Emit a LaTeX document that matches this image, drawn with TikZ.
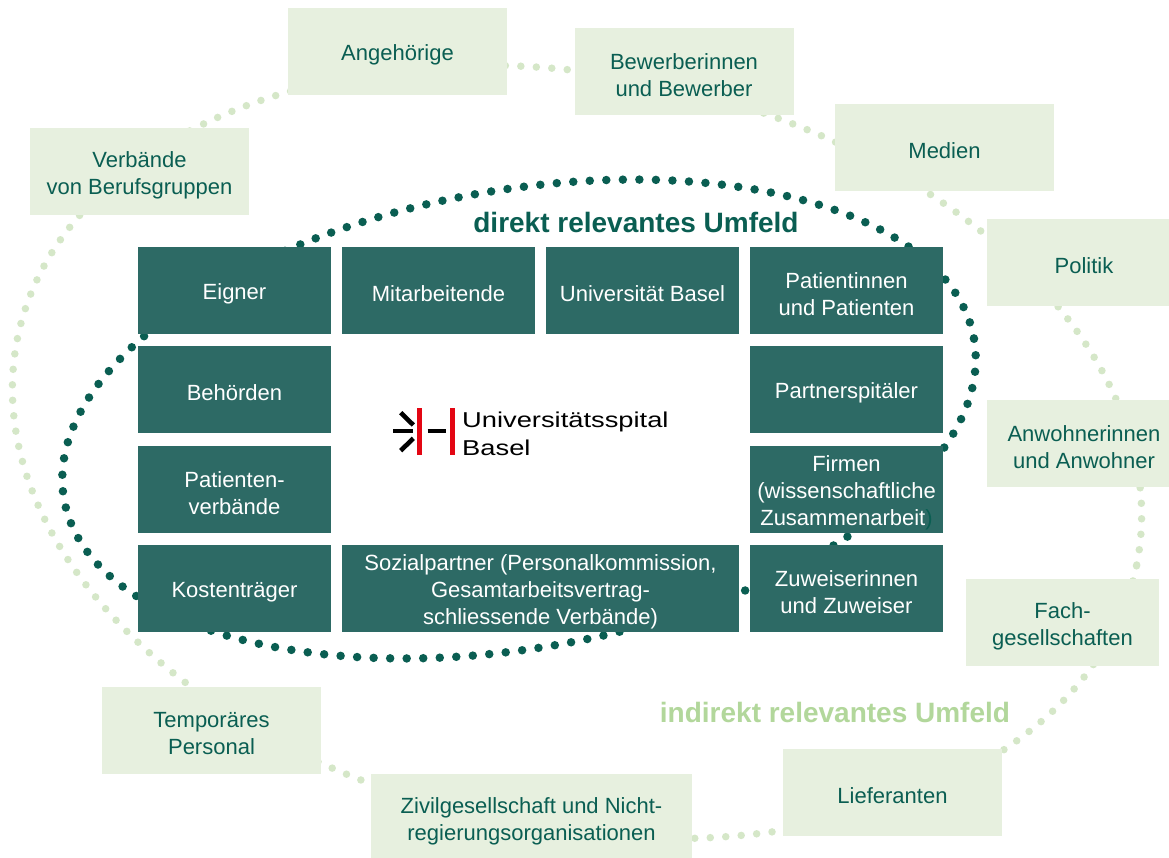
\documentclass[tikz,border=0pt]{standalone}
\usepackage{fontspec}
\setmainfont{Liberation Sans}
\definecolor{boxdark}{HTML}{2D6A65}
\definecolor{greendark}{HTML}{0A5E52}
\definecolor{boxlight}{HTML}{E7F0DF}
\definecolor{dotlight}{HTML}{D5E7C8}
\definecolor{titlelight}{HTML}{B2D79B}
\definecolor{logored}{HTML}{E30613}
\begin{document}
\begin{tikzpicture}[x=1pt,y=-1pt,
  boxtext/.style={align=center, inner sep=0pt, yshift=-3.5pt, font=\fontsize{22}{27}\selectfont},
  darktext/.style={boxtext, text=white},
  lighttext/.style={boxtext, text=greendark},
  darkbox/.style={fill=boxdark, minimum width=193pt, minimum height=87pt, inner sep=0pt},
  lightbox/.style={fill=boxlight, minimum width=219pt, minimum height=87pt, inner sep=0pt},
  dotsdark/.style={greendark, line width=8.5pt, line cap=round, dash pattern=on 0pt off 16.54pt},
  dotslight/.style={dotlight, line width=7.5pt, line cap=round, dash pattern=on 0pt off 15.51pt},
  titlefont/.style={font=\fontsize{28}{32}\selectfont\bfseries, inner sep=0pt, anchor=base},
  logoink/.style={line width=4.6pt}
  ]
\useasboundingbox (0,0) rectangle (1169,857);
\fill[white] (0,0) rectangle (1169,857);

% outer (indirect) ring
\draw[dotslight, rotate around={-11.5:(577,452)}] (577,452) ellipse [x radius=571, y radius=377];

\node[lightbox, label={[lighttext]center:Angehörige}] (angeh) at (397.5,51.5) {};
\node[lightbox, label={[lighttext]center:Bewerberinnen\\und Bewerber}] (bewerb) at (684,71.5) {};
\node[lightbox, label={[lighttext]center:Medien}] (medien) at (944.5,147.5) {};
\node[lightbox, minimum width=194pt, label={[lighttext]center:Politik}] (politik) at (1084,262.5) {};
\node[lightbox, minimum width=194pt, label={[lighttext]center:Anwohnerinnen\\und Anwohner}] (anwohn) at (1084,443.5) {};
\node[lightbox, minimum width=193pt, label={[lighttext]center:Fach-\\gesellschaften}] (fach) at (1062.5,622.5) {};
\node[lightbox, label={[lighttext]center:Lieferanten}] (liefer) at (892.5,792.5) {};
\node[lightbox, minimum width=321pt, label={[lighttext]center:Zivilgesellschaft und Nicht-\\regierungsorganisationen}] (zivil) at (531.5,817.5) {};
\node[lightbox, label={[lighttext]center:Temporäres\\Personal}] (tempo) at (211.5,730.5) {};
\node[lightbox, label={[lighttext]center:Verbände\\von Berufsgruppen}] (verb) at (139.5,171.5) {};

% inner (direct) ring
\draw[dotsdark, rotate around={10:(519,419)}] (519,419) ellipse [x radius=462, y radius=229];

\node[darkbox, label={[darktext]center:Eigner}] (eigner) at (234.5,290.5) {};
\node[darkbox, label={[darktext]center:Mitarbeitende}] (mitarb) at (438.5,290.5) {};
\node[darkbox, label={[darktext]center:Universität Basel}] (unibas) at (642.5,290.5) {};
\node[darkbox, label={[darktext]center:Patientinnen\\und Patienten}] (patient) at (846.5,290.5) {};
\node[darkbox, label={[darktext]center:Behörden}] (behoerd) at (234.5,389.5) {};
\node[darkbox, label={[darktext]center:Partnerspitäler}] (partner) at (846.5,389.5) {};
\node[darkbox, label={[darktext]center:Patienten-\\verbände}] (pverb) at (234.5,489.5) {};
\node[darkbox, label={[darktext]center:Firmen\\(wissenschaftliche\\Zusammenarbeit\textcolor{greendark}{)}}] (firmen) at (846.5,489.5) {};
\node[darkbox, label={[darktext]center:Kostenträger}] (kosten) at (234.5,588.5) {};
\node[darkbox, minimum width=397pt, label={[darktext]center:Sozialpartner (Personalkommission,\\Gesamtarbeitsvertrag-\\schliessende Verbände)}] (sozial) at (540.5,588.5) {};
\node[darkbox, label={[darktext]center:Zuweiserinnen\\und Zuweiser}] (zuweis) at (846.5,588.5) {};

% titles
\node[titlefont, text=greendark] (tdirekt) at (636,232) {direkt relevantes Umfeld};
\node[titlefont, text=titlelight] (tindirekt) at (835,722) {indirekt relevantes Umfeld};

% logo
\draw[logoink, black] (393,431) -- (413.3,431);
\draw[logoink, black] (400.7,412.7) -- (413.3,425);
\draw[logoink, black] (400.7,450.7) -- (413.3,438.3);
\fill[logored] (416.8,408.3) rectangle (421.6,455);
\draw[logoink, black] (427.7,431) -- (445.7,431);
\fill[logored] (450.2,408.3) rectangle (455,455);
\node[anchor=base west, inner sep=0pt, font=\fontsize{21.5}{26}\selectfont] (logoa) at (462,427) {\scalebox{1.27}[1]{Universitätsspital}};
\node[anchor=base west, inner sep=0pt, font=\fontsize{21.5}{26}\selectfont] (logob) at (462,455) {\scalebox{1.27}[1]{Basel}};
\end{tikzpicture}
\end{document}
